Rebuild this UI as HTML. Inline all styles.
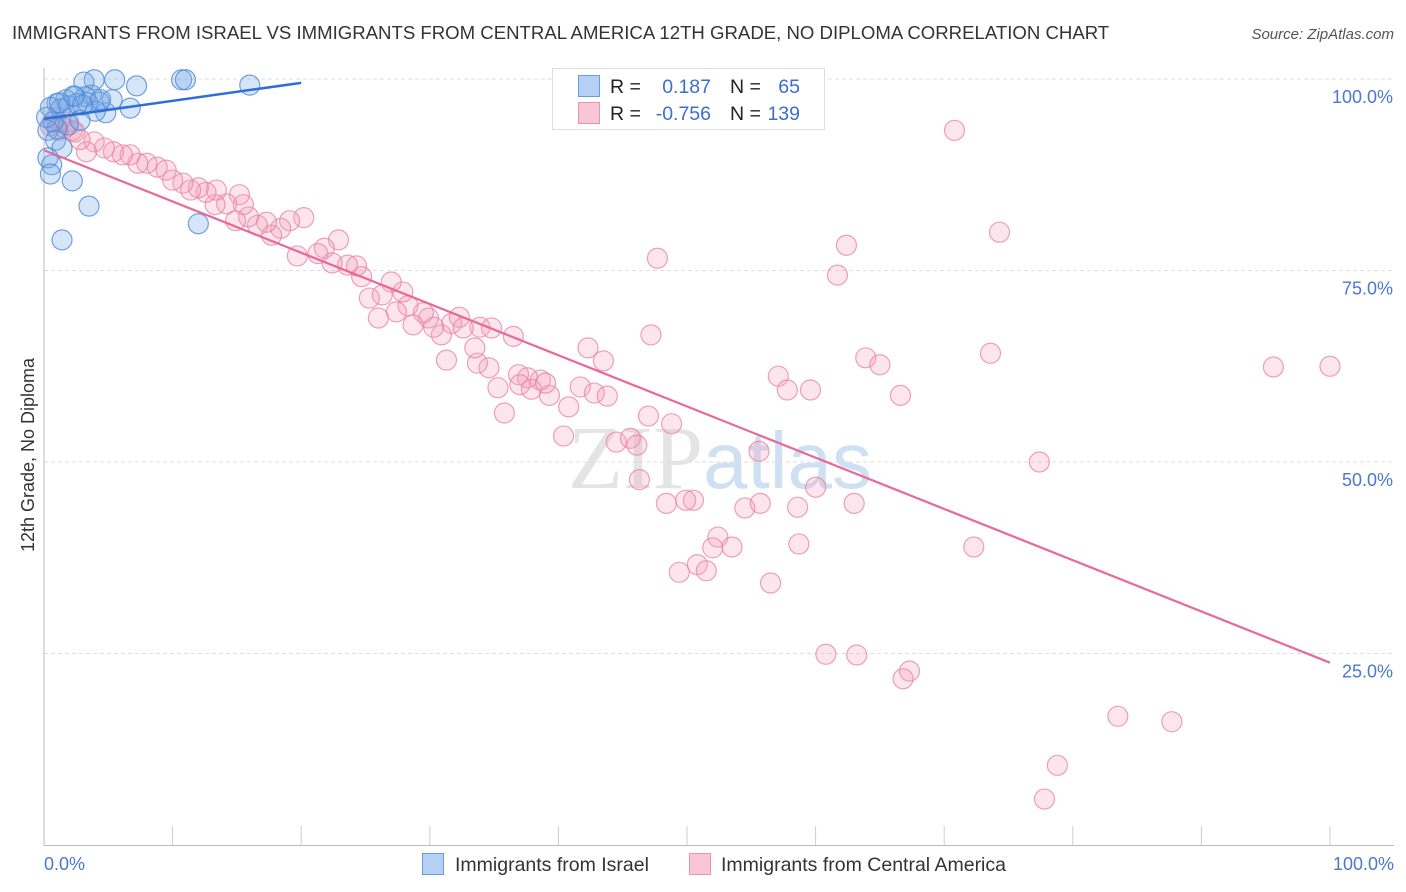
<!DOCTYPE html>
<html><head><meta charset="utf-8"><style>
body{margin:0;background:#fff;width:1406px;height:892px;overflow:hidden;font-family:"Liberation Sans",sans-serif}
svg{position:absolute;left:0;top:0}
</style></head><body>
<svg width="1406" height="892">
<text x="12" y="39" font-size="18.6" fill="#333">IMMIGRANTS FROM ISRAEL VS IMMIGRANTS FROM CENTRAL AMERICA 12TH GRADE, NO DIPLOMA CORRELATION CHART</text>
<text x="1394" y="39" font-size="15" fill="#555" font-style="italic" text-anchor="end">Source: ZipAtlas.com</text>
<text x="720" y="488" font-size="90" fill="#e4e4e4" text-anchor="middle" font-family="Liberation Serif,serif">ZIP<tspan fill="#cfe0f3" font-family="Liberation Sans,sans-serif" font-size="80">atlas</tspan></text>
<g id="grid"></g>
<g id="axes"></g>
<g id="pts"></g>
<g id="lines"></g>
<text transform="translate(34,455) rotate(-90)" font-size="18" fill="#333" text-anchor="middle">12th Grade, No Diploma</text>
<text x="44" y="870" font-size="18" fill="#4a78d0">0.0%</text>
<text x="1394" y="870" font-size="18" fill="#4a78d0" text-anchor="end">100.0%</text>
<g>
<rect x="552.5" y="68.5" width="272" height="61" fill="#fff" stroke="#ddd"/>
<rect x="578.5" y="75.5" width="21" height="21" fill="#b5d0f3" stroke="#6a9be0"/>
<rect x="578.5" y="102.5" width="21" height="21" fill="#f8c6d5" stroke="#ea93ae"/>
<text x="610" y="93" font-size="19.5" fill="#222">R = </text><text x="711" y="93" font-size="19.5" fill="#3a6fd0" text-anchor="end">0.187</text>
<text x="730" y="93" font-size="19.5" fill="#222">N = </text><text x="800" y="93" font-size="19.5" fill="#3a6fd0" text-anchor="end">65</text>
<text x="610" y="120" font-size="19.5" fill="#222">R = </text><text x="711" y="120" font-size="19.5" fill="#3a6fd0" text-anchor="end">-0.756</text>
<text x="730" y="120" font-size="19.5" fill="#222">N = </text><text x="800" y="120" font-size="19.5" fill="#3a6fd0" text-anchor="end">139</text>
</g>
<g>
<rect x="422.5" y="853.5" width="21" height="21" fill="#b5d0f3" stroke="#6a9be0"/>
<text x="455" y="871" font-size="19.5" fill="#333">Immigrants from Israel</text>
<rect x="689.5" y="853.5" width="21" height="21" fill="#f8c6d5" stroke="#ea93ae"/>
<text x="721" y="871" font-size="19.5" fill="#333">Immigrants from Central America</text>
</g>
</svg>
<script>
const yTicks=[25,50,75,100];
const yTickLabels=["25.0%","50.0%","75.0%","100.0%"];
const blueX=[5.5,3.9,10.7,11.0,16.0,7.2,3.1,3.7,5.3,6.7,4.8,4.3,3.2,2.4,1.7,1.0,0.5,1.3,1.9,2.6,3.4,4.0,1.9,1.0,0.7,0.3,0.9,1.4,0.3,0.6,0.5,2.2,3.5,12.0,1.4,2.8,4.4,2.3,1.2,3.0,0.2];
const blueY=[99.9,99.9,99.9,99.9,99.2,99.1,99.6,97.9,97.3,96.2,95.6,97.0,97.7,97.7,97.3,96.8,96.3,96.1,96.5,96.8,96.9,95.8,94.0,93.5,94.4,93.3,92.0,91.0,89.7,88.8,87.6,86.7,83.4,81.1,79.0,94.6,97.3,97.8,96.9,96.6,95.0];
const pinkX=[70.8,54.2,74.3,62.4,61.7,47.7,47.2,73.6,63.9,65.0,66.6,95.6,100,77.4,57.1,57.8,59.6,55.6,60.0,63.0,58.6,54.5,55.7,50.5,48.4,49.9,52.4,52.0,53.5,58.7,72.3,50.8,49.4,51.5,56.5,60.8,63.2,67.3,66.8,83.5,87.7,78.8,77.8,42.3,43.5,40.4,44.5,45.6,46.1,46.3,47.0,48.8,41.7,40.8,42.8,43.8,39.3,38.6,37.6,36.9,37.0,37.9,39.0,35.8,35.3,34.6,33.7,33.5,33.9,34.8,36.5,31.3,30.9,31.7,32.3,32.6,29.9,30.3,29.5,28.7,28.3,27.4,27.9,27.0,26.3,26.0,25.3,24.7,24.3,23.6,22.9,21.8,21.3,22.4,19.7,20.2,19.1,18.4,17.7,17.3,16.6,15.9,15.5,14.9,15.2,14.2,13.3,13.4,12.6,12.0,11.4,10.8,10.0,9.5,8.8,8.0,7.3,6.7,6.1,5.4,4.7,3.9,3.3,2.8,2.2,1.6,1.2,0.9,0.5,1.1,1.9,2.4];
const pinkY=[93.3,99.9,80.0,78.3,74.4,76.6,66.6,64.2,63.6,62.7,58.7,62.4,62.5,50.0,61.2,59.4,59.4,51.4,46.7,44.6,44.1,44.0,44.6,45.0,44.6,45.0,40.2,38.8,38.9,39.3,38.9,36.6,35.6,35.8,34.2,24.9,24.8,22.7,21.7,16.8,16.1,10.4,6.0,64.9,63.2,53.4,52.6,53.1,52.2,47.7,56.0,55.0,59.8,57.2,59.0,58.6,58.7,60.7,61.0,61.4,60.1,59.5,60.3,56.4,59.7,62.3,62.9,64.9,67.6,67.5,66.4,63.3,66.6,68.1,68.9,67.5,68.8,67.6,69.5,67.9,70.4,69.6,72.2,73.5,71.8,68.8,71.4,74.2,75.6,75.7,79.0,77.9,77.2,76.0,76.9,81.9,81.5,80.5,79.6,81.3,80.9,82.0,83.6,81.5,84.9,83.7,83.6,85.5,85.2,85.8,85.5,86.4,86.8,88.1,88.5,89.0,89.0,90.1,90.1,90.5,91.0,91.8,90.5,92.1,93.3,93.6,94.3,94.9,93.9,93.3,94.4,93.1];
const blueFit=[[0,94.8],[20,99.5]];
const pinkFit=[[0,90.7],[100,23.8]];
const NS="http://www.w3.org/2000/svg";
const sx=v=>44+v*12.86, sy=v=>845-v*7.66;
function mk(t,a,p){const e=document.createElementNS(NS,t);for(const k in a)e.setAttribute(k,a[k]);p.appendChild(e);return e;}
const grid=document.getElementById('grid'),axes=document.getElementById('axes'),pts=document.getElementById('pts'),lines=document.getElementById('lines');
yTicks.forEach((t,i)=>{
 const l=mk('line',{x1:44,x2:1394,y1:sy(t),y2:sy(t),stroke:'#ddd','stroke-dasharray':'4,3'},grid);
 
 
 const tx=mk('text',{x:1393,y:sy(t)+24,'font-size':18,fill:'#4a78d0','text-anchor':'end'},grid);
 tx.textContent=yTickLabels[i];
 
 
});
mk('line',{x1:44,x2:44,y1:68,y2:845,stroke:'#bbb'},axes);
mk('line',{x1:44,x2:1394,y1:845.5,y2:845.5,stroke:'#bbb'},axes);
for(let i=1;i<=10;i++){mk('line',{x1:sx(i*10),x2:sx(i*10),y1:826,y2:845,stroke:'#ccc'},axes);}
pinkX.forEach((x,i)=>{
 const c=mk('circle',{cx:sx(x),cy:sy(pinkY[i]),r:10,fill:'rgba(244,160,188,0.28)',stroke:'rgba(232,130,162,0.75)','stroke-width':1.2},pts);
 
 
});
blueX.forEach((x,i)=>{
 const c=mk('circle',{cx:sx(x),cy:sy(blueY[i]),r:10,fill:'rgba(120,170,232,0.3)',stroke:'rgba(80,140,215,0.8)','stroke-width':1.2},pts);
 
 
});
const bl=mk('line',{x1:sx(blueFit[0][0]),y1:sy(blueFit[0][1]),x2:sx(blueFit[1][0]),y2:sy(blueFit[1][1]),stroke:'#2d6fd6','stroke-width':2.5},lines);


const pl=mk('line',{x1:sx(pinkFit[0][0]),y1:sy(pinkFit[0][1]),x2:sx(pinkFit[1][0]),y2:sy(pinkFit[1][1]),stroke:'#e8689a','stroke-width':2.2},lines);


</script>
</body></html>
